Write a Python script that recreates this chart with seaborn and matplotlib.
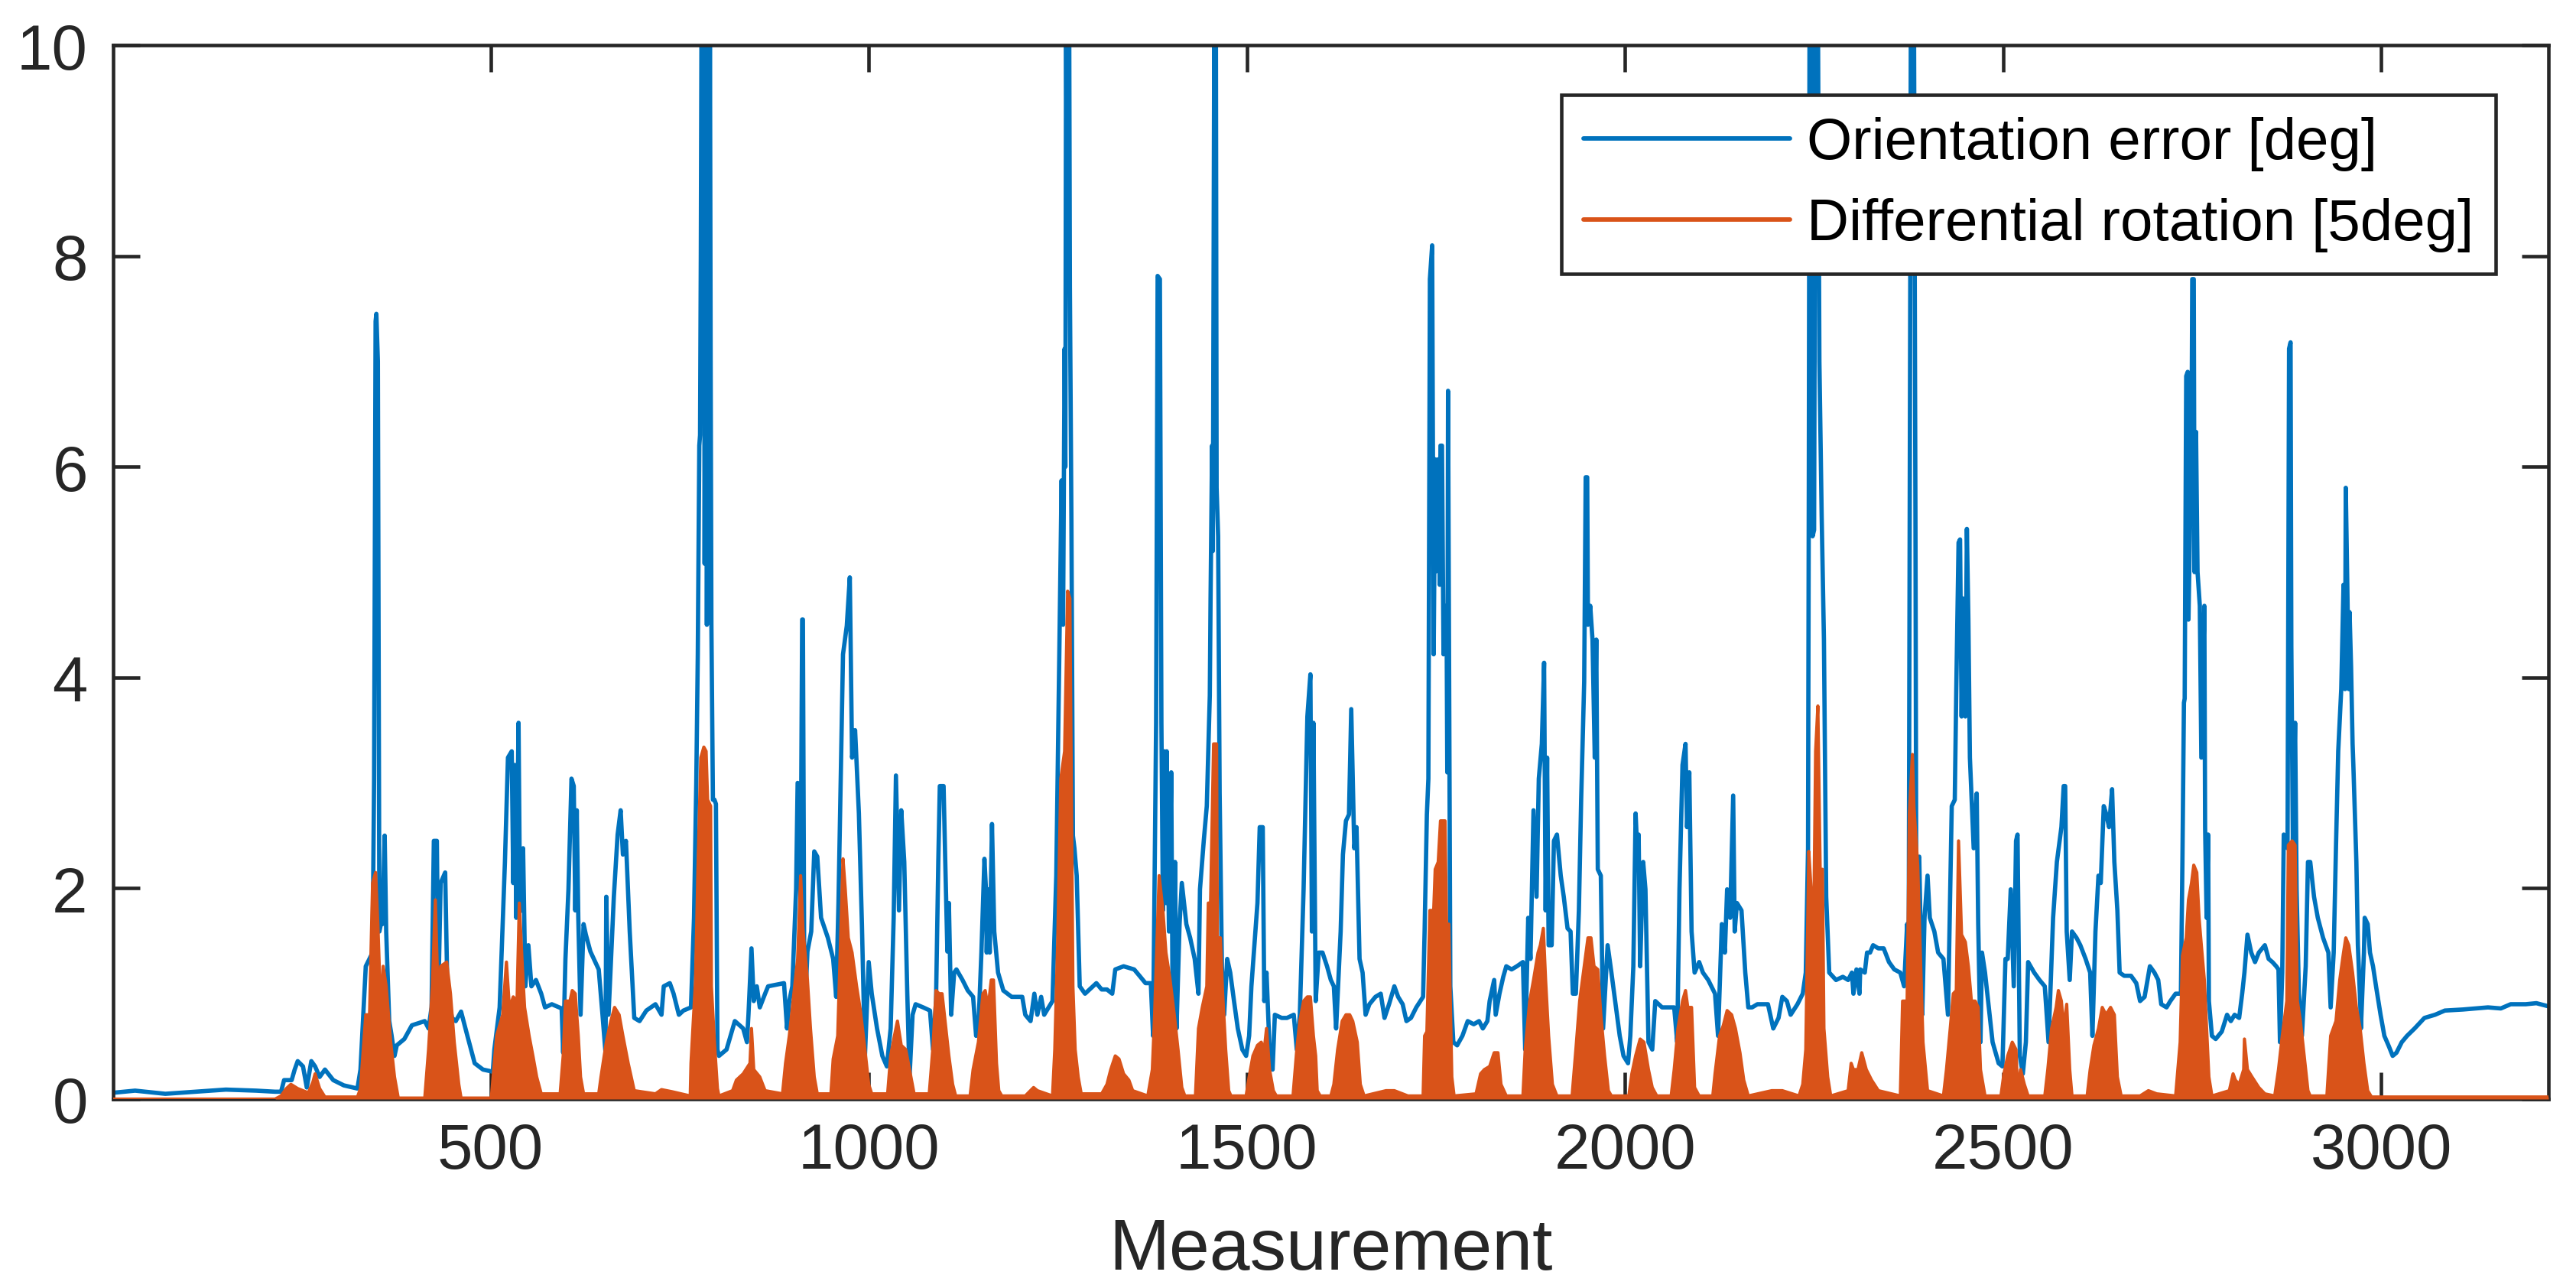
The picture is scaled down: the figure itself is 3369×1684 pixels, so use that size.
import numpy as np
import pandas as pd
import matplotlib
matplotlib.use("Agg")
import matplotlib.pyplot as plt
import seaborn as sns

# ---------------- data ----------------
orientation_error = [
(1,0.06),(30,0.08),(70,0.05),(110,0.07),(150,0.09),(190,0.08),(215,0.07),(223,0.07),(227,0.18),(237,0.18),
(241,0.28),(245,0.36),(252,0.31),(257,0.11),(263,0.36),(268,0.31),(274,0.21),(281,0.28),(292,0.18),(306,0.13),
(324,0.10),(328,0.28),(335,1.26),(344,1.39),(346,3.04),(348,7.38),(349,7.45),(351,7.0),(353,1.59),(355,1.66),
(357,1.66),(360,2.5),(362,1.59),(366,0.74),(369,0.61),(373,0.41),(376,0.51),(386,0.57),(396,0.70),(413,0.74),
(418,0.67),(422,0.87),(425,2.45),(429,2.45),(431,1.0),(434,2.05),(440,2.15),(443,1.0),(449,0.77),(454,0.74),
(461,0.83),(469,0.61),(479,0.34),(490,0.28),(503,0.26),(505,0.47),(512,0.87),(519,2.25),(523,3.24),(528,3.3),
(530,2.05),(532,3.17),(534,1.72),(537,3.57),(539,1.78),(543,2.38),(546,1.07),(550,1.46),(554,1.07),(560,1.13),
(567,1.0),(572,0.87),(581,0.9),(594,0.86),(596,0.44),(599,1.33),(603,1.99),(607,3.04),(610,2.97),(612,1.79),
(614,2.74),(616,1.72),(619,0.8),(623,1.66),(626,1.56),(632,1.40),(643,1.23),(648,0.8),(652,0.44),(653,1.92),
(656,0.8),(663,1.92),(668,2.51),(672,2.74),(675,2.32),(679,2.45),(684,1.59),(690,0.77),(697,0.74),(706,0.84),
(718,0.90),(726,0.80),(729,1.07),(737,1.10),(742,1.0),(749,0.8),(755,0.84),(765,0.87),(769,1.72),(772,3.0),
(774,4.22),(776,6.2),(777,6.3),(778,8.0),(779,10.5),(781,6.5),(782,10.5),(783,5.08),(785,10.5),(786,4.5),
(788,10.5),(789,6.0),(790,10.5),(791,7.0),(792,4.5),(794,2.84),(796,2.84),(798,2.8),(800,0.47),(802,0.41),
(812,0.47),(823,0.74),(834,0.67),(839,0.54),(841,0.8),(845,1.43),(848,0.93),(852,1.07),(856,0.87),(863,1.0),
(867,1.07),(888,1.1),(892,0.67),(895,0.93),(899,1.07),(904,1.99),(906,3.0),(910,1.92),(912,4.55),(913,4.55),
(915,0.74),(919,1.40),(924,1.59),(928,2.35),(932,2.30),(937,1.72),(946,1.53),(953,1.33),(957,0.97),(960,1.86),
(966,4.22),(971,4.49),(975,4.95),(978,3.24),(982,3.5),(987,2.71),(991,1.66),(995,0.41),(1000,1.30),(1004,1.0),
(1011,0.67),(1018,0.41),(1024,0.31),(1029,0.67),(1033,1.72),(1036,3.07),(1040,1.79),(1043,2.74),(1047,2.25),
(1051,1.0),(1054,0.21),(1058,0.8),(1062,0.9),(1072,0.87),(1081,0.84),(1085,0.47),(1089,0.93),(1092,2.25),
(1094,2.97),(1099,2.97),(1101,2.32),(1104,1.40),(1106,1.86),(1109,0.8),(1113,1.2),(1116,1.23),(1124,1.13),
(1131,1.03),(1138,0.97),(1142,0.6),(1145,0.67),(1149,1.39),(1153,2.28),(1155,1.99),(1156,1.39),(1158,1.99),
(1160,1.39),(1163,2.61),(1166,1.59),(1171,1.2),(1178,1.03),(1189,0.97),(1203,0.97),(1207,0.8),(1214,0.74),
(1219,1.0),(1223,0.8),(1228,0.97),(1232,0.8),(1243,0.93),(1248,2.12),(1252,4.22),(1255,5.87),(1257,4.5),
(1259,7.12),(1260,6.0),(1261,10.5),(1262,8.5),(1263,10.5),(1264,9.0),(1265,10.5),(1266,7.71),(1268,5.5),
(1270,2.5),(1272,2.38),(1275,2.12),(1279,1.07),(1286,1.0),(1301,1.1),(1308,1.04),(1315,1.04),(1322,1.0),
(1326,1.23),(1337,1.26),(1351,1.23),(1358,1.17),(1366,1.1),(1373,1.1),(1376,0.6),(1380,3.57),(1382,7.81),
(1385,7.78),(1387,3.57),(1389,1.79),(1391,3.3),(1393,1.86),(1394,3.3),(1397,1.59),(1400,3.1),(1402,0.67),
(1405,2.25),(1407,0.67),(1411,1.66),(1414,2.05),(1420,1.66),(1425,1.53),(1431,1.33),(1436,1.0),(1438,1.99),
(1443,2.45),(1447,2.78),(1451,3.83),(1452,4.75),(1454,6.2),(1455,5.2),(1457,10.5),(1458,7.0),(1459,10.5),
(1460,5.8),(1462,5.34),(1464,2.9),(1467,1.26),(1470,0.8),(1474,1.33),(1478,1.2),(1483,0.93),(1488,0.67),
(1494,0.47),(1499,0.41),(1503,0.6),(1506,1.07),(1510,1.46),(1514,1.86),(1517,2.58),(1521,2.58),(1523,0.93),
(1526,1.2),(1530,0.47),(1534,0.28),(1537,0.8),(1546,0.77),(1553,0.77),(1562,0.8),(1566,0.47),(1570,0.8),
(1575,1.99),(1580,3.63),(1584,4.03),(1586,1.59),(1588,3.57),(1591,0.93),(1595,1.39),(1600,1.39),(1606,1.26),
(1611,1.13),(1615,1.07),(1618,0.67),(1624,1.59),(1627,2.32),(1631,2.64),(1635,2.7),(1638,3.7),(1642,2.38),
(1645,2.58),(1649,1.33),(1653,1.2),(1657,0.8),(1662,0.9),(1670,0.97),(1677,1.0),(1682,0.77),(1688,0.9),
(1695,1.07),(1700,0.97),(1706,0.9),(1711,0.74),(1717,0.77),(1724,0.87),(1733,0.97),(1735,1.59),(1738,2.7),
(1740,3.04),(1742,7.78),(1745,8.1),(1747,4.22),(1749,6.07),(1751,5.01),(1753,6.07),(1755,4.88),(1756,6.2),
(1758,6.2),(1760,4.22),(1764,4.68),(1765,3.1),(1766,6.72),(1769,1.07),(1773,0.54),(1778,0.51),(1785,0.6),
(1792,0.74),(1800,0.71),(1807,0.74),(1812,0.67),(1818,0.74),(1821,0.93),(1827,1.13),(1829,0.8),(1834,1.0),
(1839,1.16),(1843,1.26),(1850,1.23),(1857,1.26),(1865,1.3),(1868,0.47),(1872,1.72),(1875,1.33),(1879,2.74),
(1883,1.92),(1886,3.04),(1890,3.37),(1893,4.14),(1895,1.79),(1897,3.24),(1899,1.46),(1903,1.46),(1906,2.45),
(1910,2.51),(1915,2.12),(1919,1.92),(1924,1.62),(1928,1.59),(1931,1.0),(1935,1.0),(1939,1.79),(1942,2.84),
(1946,3.96),(1948,5.9),(1950,5.9),(1951,4.5),(1954,4.68),(1957,4.36),(1960,3.24),(1962,4.36),(1964,2.18),
(1968,2.12),(1971,0.67),(1977,1.46),(1982,1.2),(1987,0.93),(1993,0.6),(1998,0.41),(2004,0.34),(2007,0.6),
(2011,1.26),(2014,2.71),(2016,2.38),(2018,2.51),(2020,1.26),(2024,2.25),(2027,1.99),(2031,0.54),(2036,0.47),
(2040,0.93),(2049,0.87),(2060,0.87),(2065,0.87),(2069,0.54),(2072,1.99),(2076,3.17),(2080,3.37),(2082,2.58),
(2085,3.1),(2088,1.59),(2092,1.2),(2098,1.3),(2103,1.2),(2110,1.13),(2119,1.0),(2123,0.6),(2128,1.66),
(2132,1.39),(2135,1.99),(2139,1.72),(2143,2.88),(2145,1.59),(2148,1.86),(2154,1.79),(2159,1.2),(2163,0.87),
(2168,0.87),(2175,0.9),(2189,0.9),(2196,0.67),(2203,0.77),(2208,0.97),(2214,0.93),(2219,0.8),(2228,0.9),
(2235,1.0),(2239,1.2),(2242,2.38),(2243,5.8),(2244,10.5),(2245,8.0),(2246,10.5),(2248,5.34),(2250,5.4),
(2252,10.5),(2253,8.0),(2254,10.5),(2255,10.5),(2257,7.0),(2260,5.54),(2263,4.36),(2266,1.92),(2270,1.2),
(2279,1.13),(2288,1.16),(2295,1.13),(2300,1.2),(2302,1.0),(2306,1.23),(2310,1.0),(2311,1.23),(2317,1.2),
(2320,1.39),(2324,1.39),(2328,1.46),(2335,1.43),(2342,1.43),(2349,1.3),(2356,1.23),(2364,1.2),(2369,1.07),
(2373,1.66),(2375,1.13),(2376,4.22),(2378,10.5),(2382,10.5),(2384,5.54),(2385,2.25),(2389,2.3),(2393,0.8),
(2396,1.72),(2400,2.12),(2403,1.72),(2409,1.59),(2414,1.39),(2421,1.33),(2427,0.8),(2432,2.78),(2436,2.84),
(2438,3.89),(2441,5.28),(2443,5.31),(2445,3.63),(2447,4.75),(2450,3.63),(2452,5.41),(2454,4.55),(2456,3.24),
(2461,2.38),(2465,2.9),(2467,1.66),(2470,0.54),(2472,1.39),(2476,1.2),(2481,0.87),(2486,0.54),(2494,0.34),
(2499,0.31),(2503,1.33),(2506,1.33),(2510,1.99),(2514,1.07),(2517,2.45),(2519,2.51),(2522,0.41),(2526,0.24),
(2530,0.54),(2533,1.3),(2541,1.2),(2548,1.13),(2555,1.07),(2560,0.54),(2566,1.72),(2571,2.25),(2577,2.58),
(2580,2.97),(2582,2.97),(2584,1.59),(2588,1.13),(2591,1.59),(2597,1.53),(2602,1.46),(2609,1.33),(2615,1.2),
(2618,0.6),(2622,1.59),(2626,2.12),(2629,2.05),(2633,2.78),(2636,2.71),(2640,2.58),(2644,2.94),(2647,2.25),
(2651,1.79),(2654,1.2),(2660,1.17),(2669,1.17),(2676,1.1),(2681,0.93),(2687,0.97),(2694,1.26),(2700,1.2),
(2705,1.13),(2709,0.9),(2716,0.87),(2721,0.93),(2728,1.0),(2735,1.0),(2737,2.25),(2739,3.76),(2740,3.8),
(2742,6.86),(2744,6.9),(2745,4.55),(2747,5.41),(2749,6.2),(2750,7.78),(2752,7.78),(2753,5.0),(2755,6.33),
(2757,5.0),(2760,4.68),(2762,3.24),(2766,4.68),(2767,2.58),(2769,1.72),(2771,2.51),(2772,0.93),(2776,0.6),
(2781,0.57),(2789,0.64),(2796,0.8),(2801,0.74),(2806,0.8),(2812,0.77),(2816,1.0),(2819,1.2),(2823,1.56),
(2828,1.39),(2833,1.3),(2838,1.39),(2846,1.46),(2851,1.33),(2856,1.3),(2861,1.26),(2864,1.23),(2866,0.54),
(2869,1.2),(2871,2.51),(2876,2.38),(2878,7.12),(2880,7.18),(2881,4.3),(2883,2.45),(2886,3.57),(2888,1.99),
(2891,1.0),(2895,0.6),(2900,1.26),(2903,2.25),(2906,2.25),(2911,1.92),(2916,1.72),(2923,1.53),(2930,1.39),
(2933,0.87),(2937,1.39),(2940,2.38),(2943,3.3),(2947,3.89),(2950,4.88),(2952,3.89),(2953,5.8),(2955,4.88),
(2957,3.89),(2958,4.62),(2960,4.1),(2962,3.37),(2963,3.17),(2967,2.25),(2969,1.46),(2972,0.93),(2973,0.67),
(2977,1.39),(2978,1.72),(2982,1.66),(2985,1.39),(2989,1.26),(2993,1.07),(2999,0.8),(3004,0.6),(3010,0.5),
(3015,0.41),(3020,0.44),(3027,0.54),(3034,0.6),(3044,0.67),(3057,0.77),(3071,0.8),(3084,0.84),(3108,0.85),
(3124,0.86),(3141,0.87),(3158,0.86),(3171,0.9),(3191,0.9),(3205,0.91),(3221,0.88),
]

differential_rotation = [
(1,0),(215,0),(223,0.03),(230,0.1),(236,0.14),(245,0.1),(259,0.06),(265,0.16),(268,0.24),(274,0.1),(281,0.02),
(324,0.02),(328,0.1),(331,0.4),(335,0.8),(340,0.8),(344,2.05),(348,2.15),(351,1.66),(355,0.8),(358,1.26),
(362,1.07),(368,0.54),(373,0.21),(378,0.01),(413,0.01),(418,0.47),(423,1.07),(427,1.89),(431,0.87),(434,1.26),
(442,1.3),(447,1.0),(452,0.54),(458,0.14),(461,0.01),(501,0.01),(508,0.6),(516,0.8),(521,1.3),(525,0.86),
(530,0.97),(535,0.93),(538,1.86),(542,1.26),(545,0.87),(551,0.6),(556,0.41),(561,0.21),(567,0.05),(592,0.05),
(596,0.41),(599,0.93),(605,0.93),(608,1.03),(612,1.0),(616,0.6),(619,0.21),(623,0.05),(643,0.05),(646,0.21),
(653,0.54),(659,0.74),(664,0.87),(670,0.8),(675,0.6),(682,0.34),(690,0.08),(718,0.05),(726,0.09),(740,0.07),
(764,0.03),(765,0.34),(771,1.13),(774,2.12),(778,3.24),(782,3.34),(785,3.3),(787,2.84),(791,2.78),(792,1.07),
(796,0.54),(800,0.1),(802,0.03),(820,0.08),(825,0.18),(834,0.24),(843,0.34),(845,0.67),(848,0.28),(856,0.21),
(863,0.08),(886,0.05),(890,0.34),(895,0.6),(901,1.0),(906,1.33),(910,2.12),(913,1.62),(919,1.13),(923,0.67),
(928,0.21),(932,0.05),(950,0.05),(953,0.38),(959,0.6),(962,1.33),(966,2.28),(969,1.99),(973,1.53),(978,1.39),
(984,1.07),(989,0.84),(995,0.47),(1000,0.14),(1004,0.05),(1025,0.05),(1029,0.41),(1034,0.6),(1038,0.74),
(1043,0.51),(1049,0.47),(1054,0.28),(1060,0.05),(1080,0.05),(1085,0.5),(1089,1.03),(1093,1.0),(1097,1.0),
(1102,0.67),(1106,0.41),(1111,0.14),(1115,0.03),(1134,0.03),(1138,0.28),(1145,0.54),(1151,1.0),(1154,1.03),
(1158,0.87),(1162,1.13),(1165,1.13),(1169,0.34),(1172,0.08),(1176,0.03),(1207,0.03),(1218,0.11),(1223,0.08),
(1243,0.03),(1246,0.47),(1250,1.53),(1254,3.04),(1259,3.3),(1263,4.82),(1266,4.75),(1268,2.9),(1270,1.07),
(1273,0.47),(1277,0.21),(1281,0.05),(1308,0.05),(1315,0.14),(1320,0.28),(1326,0.41),(1331,0.38),(1337,0.24),
(1344,0.18),(1349,0.08),(1369,0.03),(1375,0.28),(1378,0.8),(1384,2.12),(1389,1.79),(1393,1.39),(1398,1.16),
(1404,0.8),(1409,0.47),(1414,0.11),(1418,0.03),(1432,0.03),(1436,0.67),(1441,0.87),(1447,1.07),(1449,1.86),
(1452,1.86),(1456,3.37),(1460,3.37),(1461,1.53),(1465,1.53),(1468,1.0),(1472,0.47),(1476,0.08),(1479,0.03),
(1499,0.03),(1503,0.21),(1508,0.41),(1514,0.51),(1519,0.54),(1523,0.47),(1526,0.67),(1530,0.28),(1535,0.08),
(1539,0.03),(1561,0.03),(1566,0.47),(1570,0.74),(1575,0.93),(1580,0.97),(1584,0.97),(1588,0.6),(1591,0.41),
(1593,0.08),(1597,0.03),(1611,0.03),(1615,0.14),(1620,0.47),(1626,0.74),(1631,0.8),(1636,0.8),(1640,0.74),
(1646,0.54),(1650,0.14),(1655,0.03),(1684,0.08),(1695,0.08),(1713,0.03),(1733,0.03),(1735,0.6),(1738,0.64),
(1742,1.79),(1747,1.79),(1749,2.18),(1753,2.25),(1756,2.64),(1762,2.64),(1764,1.66),(1767,1.66),(1771,0.21),
(1774,0.03),(1803,0.05),(1809,0.24),(1814,0.28),(1821,0.31),(1827,0.44),(1832,0.44),(1836,0.14),(1843,0.03),
(1865,0.03),(1868,0.47),(1874,0.93),(1879,1.13),(1885,1.39),(1888,1.46),(1892,1.62),(1895,1.13),(1899,0.6),
(1904,0.14),(1910,0.03),(1930,0.03),(1935,0.47),(1940,0.93),(1946,1.26),(1951,1.53),(1955,1.53),(1959,1.26),
(1964,1.23),(1968,0.8),(1973,0.41),(1978,0.08),(1982,0.03),(2005,0.03),(2009,0.24),(2014,0.41),(2020,0.57),
(2025,0.54),(2031,0.28),(2036,0.11),(2042,0.03),(2061,0.03),(2065,0.28),(2070,0.67),(2076,0.93),(2080,1.03),
(2083,0.87),(2088,0.87),(2092,0.11),(2098,0.03),(2116,0.03),(2119,0.24),(2125,0.6),(2130,0.7),(2135,0.84),
(2141,0.8),(2146,0.67),(2152,0.44),(2157,0.18),(2163,0.03),(2194,0.08),(2208,0.08),(2230,0.03),(2235,0.14),
(2239,0.47),(2243,2.35),(2246,1.99),(2250,1.99),(2252,3.3),(2255,3.73),(2258,2.18),(2261,2.18),(2263,0.67),
(2268,0.21),(2272,0.03),(2295,0.08),(2299,0.34),(2302,0.28),(2308,0.28),(2313,0.44),(2319,0.28),(2326,0.18),
(2335,0.08),(2364,0.03),(2367,0.93),(2373,0.93),(2376,2.71),(2380,3.27),(2382,2.78),(2387,2.22),(2391,1.26),
(2394,0.54),(2400,0.08),(2421,0.03),(2425,0.28),(2430,0.67),(2434,1.0),(2438,1.03),(2441,2.45),(2445,1.56),
(2450,1.49),(2454,1.26),(2458,0.93),(2463,0.93),(2467,0.87),(2470,0.28),(2476,0.03),(2497,0.03),(2501,0.24),
(2506,0.41),(2512,0.54),(2517,0.47),(2519,0.08),(2523,0.28),(2528,0.14),(2533,0.03),(2555,0.03),(2559,0.28),
(2564,0.67),(2570,0.87),(2573,1.03),(2577,0.93),(2580,0.67),(2584,0.9),(2588,0.28),(2591,0.03),(2611,0.03),
(2615,0.28),(2620,0.51),(2626,0.67),(2631,0.87),(2636,0.8),(2642,0.87),(2647,0.8),(2651,0.21),(2656,0.03),
(2681,0.03),(2692,0.08),(2703,0.05),(2728,0.03),(2734,0.54),(2737,1.36),(2742,1.53),(2745,1.89),(2749,2.05),
(2752,2.22),(2756,2.15),(2759,1.72),(2762,1.46),(2766,1.13),(2769,0.67),(2772,0.21),(2776,0.03),(2799,0.08),
(2804,0.24),(2807,0.18),(2812,0.14),(2818,0.28),(2819,0.57),(2823,0.28),(2829,0.21),(2838,0.11),(2846,0.05),
(2859,0.03),(2864,0.28),(2869,0.6),(2875,0.93),(2877,2.41),(2882,2.45),(2886,2.41),(2889,0.93),(2893,0.74),
(2898,0.41),(2903,0.08),(2906,0.03),(2928,0.03),(2933,0.6),(2940,0.74),(2945,1.13),(2950,1.39),(2953,1.53),
(2957,1.46),(2962,1.2),(2967,0.87),(2972,0.67),(2977,0.34),(2982,0.08),(2987,0.02),(3221,0.02),
]

x_ticks = [500, 1000, 1500, 2000, 2500, 3000]
y_ticks = [0, 2, 4, 6, 8, 10]
series_labels = ["Orientation error [deg]", "Differential rotation [5deg]"]
x_label = "Measurement"

# ---------------- styling ----------------
sns.set_theme(style="white")
plt.rcParams["font.family"] = ["Liberation Sans", "DejaVu Sans"]

BLUE = "#0072BD"
ORANGE = "#D95319"
DARK = "#262626"

df_err = pd.DataFrame(orientation_error, columns=["Measurement", "value"])
df_rot = pd.DataFrame(differential_rotation, columns=["Measurement", "value"])

fig = plt.figure(figsize=(3369 / 300, 1685 / 300), dpi=300)
ax = fig.add_axes([148 / 3369, 1 - 1438 / 1685, 3185 / 3369, 1378 / 1685])

sns.lineplot(data=df_err, x="Measurement", y="value", ax=ax, color=BLUE,
             linewidth=1.35, estimator=None, sort=False, label=series_labels[0])
ax.fill_between(df_rot["Measurement"], 0, df_rot["value"], color=ORANGE,
                linewidth=0, zorder=3)
sns.lineplot(data=df_rot, x="Measurement", y="value", ax=ax, color=ORANGE,
             linewidth=1.0, estimator=None, sort=False, label=series_labels[1])
ax.lines[-1].set_zorder(3)

ax.set_xlim(1, 3221)
ax.set_ylim(0, 10)
ax.set_xticks(x_ticks)
ax.set_yticks(y_ticks)
ax.set_xlabel(x_label, fontsize=22.8, color=DARK, labelpad=11)
ax.set_ylabel("")

for sp in ax.spines.values():
    sp.set_visible(True)
    sp.set_color(DARK)
    sp.set_linewidth(1.1)
ax.tick_params(axis="both", direction="in", length=8.3, width=1.1, color=DARK,
               labelcolor=DARK, labelsize=20, top=True, right=True,
               bottom=True, left=True)
ax.tick_params(axis="x", pad=7)
ax.tick_params(axis="y", pad=8)

leg = ax.legend(loc="upper right", bbox_to_anchor=(0.9783, 0.9528),
                borderaxespad=0, fontsize=18.3, frameon=True, fancybox=False,
                framealpha=1, edgecolor=DARK, handlelength=3.54,
                handletextpad=0.3, labelspacing=0.46, borderpad=0.37)
leg.get_frame().set_linewidth(1.1)
for h in leg.get_lines():
    h.set_linewidth(1.4)
for t in leg.get_texts():
    t.set_color("black")

fig.savefig("out.png", dpi=300)
